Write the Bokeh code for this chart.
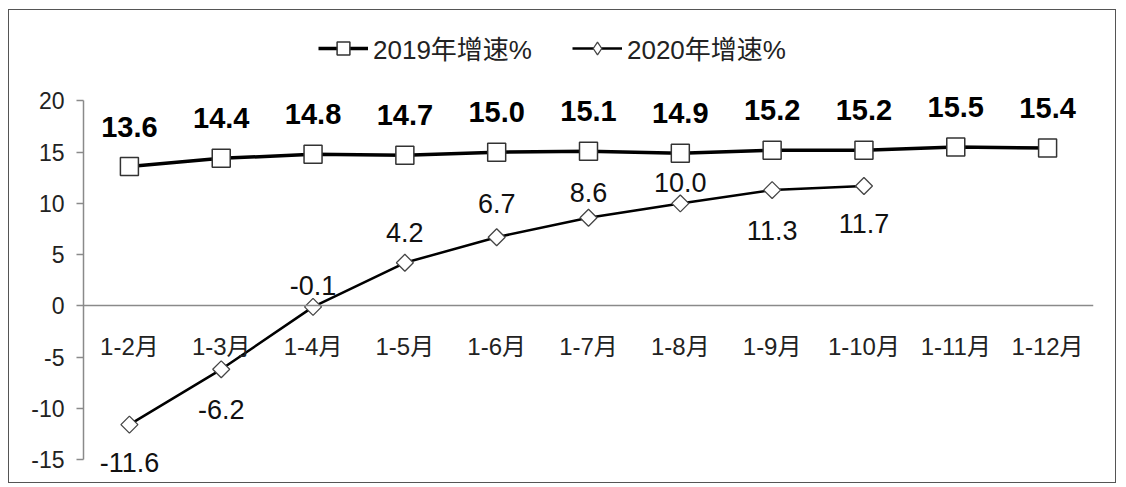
import numpy as np
from bokeh.plotting import figure
from bokeh.models import (ColumnDataSource, FactorRange, Range1d, SingleIntervalTicker,
                          Legend, LegendItem)
from bokeh.core.properties import value
from bokeh.embed import file_html
from bokeh.resources import INLINE

# ---------------- data ----------------
months = ["1-2月", "1-3月", "1-4月", "1-5月", "1-6月", "1-7月",
          "1-8月", "1-9月", "1-10月", "1-11月", "1-12月"]
growth_2019 = [13.6, 14.4, 14.8, 14.7, 15.0, 15.1, 14.9, 15.2, 15.2, 15.5, 15.4]
growth_2020 = [-11.6, -6.2, -0.1, 4.2, 6.7, 8.6, 10.0, 11.3, 11.7]
series_names = ["2019年增速%", "2020年增速%"]
y_min, y_max, y_step = -15, 20, 5
y_ticks = list(range(y_min, y_max + 1, y_step))

# label placement (screen px, positive = below the point)
label_dy_2019 = [-40] * len(growth_2019)
label_dy_2020 = [38, 40, -21, -30, -34, -25, -21, 40, 38]

FONT = "Liberation Sans, Noto Sans CJK SC"

src19 = ColumnDataSource(dict(x=months, y=growth_2019,
                              txt=[f"{v:.1f}" for v in growth_2019], dy=label_dy_2019))
src20 = ColumnDataSource(dict(x=months[:len(growth_2020)], y=growth_2020,
                              txt=[f"{v:.1f}" for v in growth_2020], dy=label_dy_2020))

# the frame is extended above/below the axis span so labels and legend fit
p = figure(width=1108, height=474,
           x_range=FactorRange(*months, range_padding=0),
           y_range=Range1d(-17.25, 28.64),
           output_backend="svg", toolbar_location=None,
           min_border_left=74, min_border_right=24,
           min_border_top=2, min_border_bottom=2,
           styles={"margin-left": "8px", "margin-top": "9px",
                   "border": "1px solid #555"})

p.outline_line_color = None
p.xgrid.visible = False
p.ygrid.visible = False

# y axis
yax = p.yaxis[0]
yax.bounds = (y_min, y_max)
yax.ticker = SingleIntervalTicker(interval=y_step)
yax.major_label_overrides = {t: str(t) for t in y_ticks}
yax.axis_line_color = "#8a8a8a"
yax.axis_line_width = 1.5
yax.major_tick_line_color = "#8a8a8a"
yax.major_tick_line_width = 1.5
yax.major_tick_out = 7
yax.major_tick_in = 0
yax.minor_tick_line_color = None
yax.major_label_standoff = 12
yax.major_label_text_font = FONT
yax.major_label_text_font_size = "23px"
yax.major_label_text_color = "#222222"

# x axis at zero
xax = p.xaxis[0]
xax.fixed_location = 0
xax.axis_line_color = "#8a8a8a"
xax.axis_line_width = 1.5
xax.major_tick_line_color = None
xax.major_tick_out = 0
xax.major_tick_in = 0
xax.minor_tick_line_color = None
xax.major_label_standoff = 27
xax.major_label_text_font = FONT
xax.major_label_text_font_size = "24px"
xax.major_label_text_color = "#222222"

# series 2019
l19 = p.line("x", "y", source=src19, line_color="black", line_width=3.5)
m19 = p.scatter("x", "y", source=src19, marker="square", size=18,
                fill_color="white", line_color="#333333", line_width=1.5)
p.text("x", "y", text="txt", source=src19, y_offset="dy",
       text_align="center", text_baseline="middle",
       text_font=value(FONT), text_font_size="29px", text_font_style="bold",
       text_color="black")

# series 2020
l20 = p.line("x", "y", source=src20, line_color="black", line_width=2.5)
m20 = p.scatter("x", "y", source=src20, marker="square", angle=np.pi / 4, size=12,
                fill_color="white", line_color="#444444", line_width=1.3)
p.text("x", "y", text="txt", source=src20, y_offset="dy",
       text_align="center", text_baseline="middle",
       text_font=value(FONT), text_font_size="27px",
       text_color="#111111")

# legend-only diamond key (a single undrawn NaN point) so the key shows a diamond
m20_key = p.scatter(x=[months[0]], y=[np.nan], marker="diamond", size=14,
                    fill_color="white", line_color="#444444", line_width=1.3)

legend = Legend(items=[LegendItem(label=series_names[0], renderers=[l19, m19]),
                       LegendItem(label=series_names[1], renderers=[l20, m20_key])],
                orientation="horizontal", location=(235, 416),
                glyph_width=50, glyph_height=32, label_standoff=5, spacing=40,
                padding=0, margin=0, border_line_color=None,
                background_fill_alpha=0,
                label_text_font=FONT, label_text_font_size="26px",
                label_text_color="#222222")
p.add_layout(legend, "center")

open("out.html", "w").write(file_html(p, INLINE))
